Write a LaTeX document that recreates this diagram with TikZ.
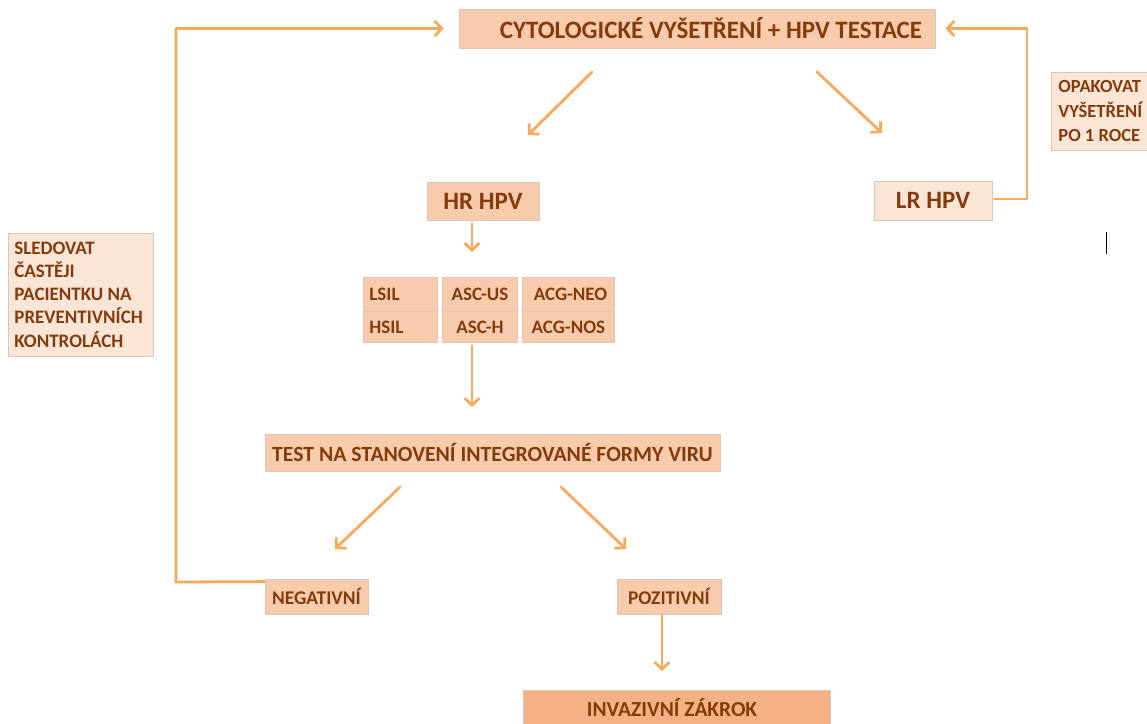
\documentclass[tikz,border=0pt]{standalone}
\usepackage{fontspec}
\setmainfont{Carlito}
\usetikzlibrary{arrows.meta,calc}
\definecolor{boxfill}{HTML}{F8CBAD}
\definecolor{lightfill}{HTML}{FBE5D6}
\definecolor{darkfill}{HTML}{F4B183}
\definecolor{txt}{HTML}{843C0C}
\definecolor{arrc}{HTML}{F6AA5C}
\definecolor{edgec}{HTML}{DCC6B8}
\newcommand{\fs}[2]{\fontsize{#1}{#2}\selectfont}
\begin{document}
\begin{tikzpicture}[x=1pt,y=-1pt,
  box/.style={draw=edgec, line width=0.8pt, fill=boxfill, text=txt, inner sep=0pt},
  lbox/.style={box, fill=lightfill},
  arr/.style={draw=arrc, line width=2.8pt, line cap=round, line join=round,
    -{Straight Barb[length=7pt,width=15pt,line width=2.8pt]}},
]
\useasboundingbox (0,0) rectangle (1147,723);

% boxes
\node[box, font=\bfseries\fs{25}{30}, minimum width=476, minimum height=39, inner xsep=13pt, text width=450, align=flush right]
  (top) at (697,28.5) {CYTOLOGICKÉ VYŠETŘENÍ + HPV TESTACE};
\node[lbox, font=\bfseries\fs{18.5}{24.5}, inner xsep=7pt, text width=100, minimum height=78, align=flush left, anchor=west]
  (opak) at (1051,111) {OPAKOVAT\\VYŠETŘENÍ\\PO 1 ROCE};
\node[box, font=\bfseries\fs{25}{30}, minimum width=112, minimum height=38] (hr) at (483,201) {HR HPV};
\node[lbox, font=\bfseries\fs{25}{30}, minimum width=118, minimum height=39] (lr) at (933,200.5) {LR HPV};
\node[lbox, font=\bfseries\fs{19}{23.2}, inner xsep=6pt, text width=133, minimum height=123, align=flush left, anchor=west]
  (sled) at (8,294.5) {SLEDOVAT\\ČASTĚJI\\PACIENTKU NA\\PREVENTIVNÍCH\\KONTROLÁCH};

% grid
\tikzset{cell/.style={box, font=\bfseries\fs{19}{22}, anchor=north west}}
\node[cell, minimum width=74, minimum height=34, inner xsep=6pt, text width=62, align=flush left] (lsil) at (363,277) {LSIL};
\node[cell, minimum width=74, minimum height=31, inner xsep=6pt, text width=62, align=flush left] (hsil) at (363,311) {HSIL};
\node[cell, minimum width=75, minimum height=34] (ascus) at (442,277) {ASC-US};
\node[cell, minimum width=75, minimum height=31] (asch) at (442,311) {ASC-H};
\node[cell, minimum width=92, minimum height=34] (acgneo) at (522,277) {\ ACG-NEO};
\node[cell, minimum width=92, minimum height=31] (acgnos) at (522,311) {ACG-NOS};

\node[box, font=\bfseries\fs{21.7}{26}, minimum width=455, minimum height=37] (test) at (492.5,452.5) {TEST NA STANOVENÍ INTEGROVANÉ FORMY VIRU};
\node[box, font=\bfseries\fs{19.4}{23}, minimum width=103, minimum height=35] (neg) at (316.5,596.5) {NEGATIVNÍ};
\node[box, font=\bfseries\fs{19.4}{23}, minimum width=104, minimum height=35] (poz) at (669,596.5) {POZITIVNÍ};
\node[box, fill=darkfill, minimum width=307, minimum height=40, anchor=north west] (inv) at (523,690) {};
\node[text=txt, font=\bfseries\fs{21.4}{26}, anchor=center, inner sep=0pt] (invt) at (672,708) {INVAZIVNÍ ZÁKROK};

% free ends of connectors
\coordinate (a1s) at (592,72);  \coordinate (a1e) at (528,135);
\coordinate (a2s) at (817,72);  \coordinate (a2e) at (882,133);
\coordinate (a3e) at (472,252);
\coordinate (a4e) at (472,407);
\coordinate (a5s) at (400,487); \coordinate (a5e) at (335,549);
\coordinate (a6s) at (561,487); \coordinate (a6e) at (626,549);
\coordinate (a7e) at (662,671);
\coordinate (lx) at (176,582);
\coordinate (rx) at (1027,199);

% connectors
\draw[arr] (a1s) -- (a1e);
\draw[arr] (a2s) -- (a2e);
\draw[arr] ([yshift=-3pt]hr.south -| a3e) -- (a3e);
\draw[arr] ([yshift=-3pt]asch.south -| a4e) -- (a4e);
\draw[arr] (a5s) -- (a5e);
\draw[arr] (a6s) -- (a6e);
\draw[arr] (poz.south -| a7e) -- (a7e);
\draw[arr, shorten >=15pt] ($(neg.north west)+(0,3)$) -- (lx) |- (top.west);
\draw[arr, shorten >=10pt] ([xshift=2pt]lr.east |- rx) -- (rx) |- (top.east);

% text cursor
\draw[black, line width=1pt] (1106,232) -- (1106,254);
\end{tikzpicture}
\end{document}
